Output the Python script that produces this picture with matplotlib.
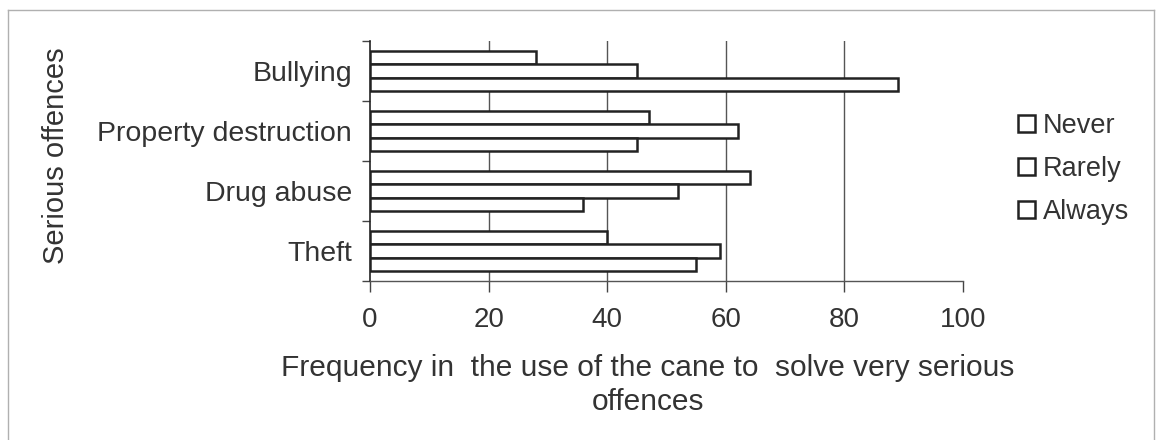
import matplotlib
matplotlib.use("Agg")
import matplotlib.pyplot as plt
import numpy as np
from matplotlib.lines import Line2D

categories = ["Bullying", "Property destruction", "Drug abuse", "Theft"]
series_names = ["Never", "Rarely", "Always"]
never = [28, 47, 64, 40]
rarely = [45, 62, 52, 59]
always = [89, 45, 36, 55]
x_ticks = [0, 20, 40, 60, 80, 100]
x_label = "Frequency in  the use of the cane to  solve very serious\noffences"
y_label = "Serious offences"

plt.rcParams['font.family'] = ['Liberation Sans', 'DejaVu Sans']
W, H = 1156, 440
fig = plt.figure(figsize=(W / 100, H / 100), dpi=100)
fig.patch.set_facecolor('white')
ax = fig.add_axes([370 / W, 1 - 281 / H, (963 - 370) / W, (281 - 41) / H])

text_color = '#333333'
y = np.arange(len(categories))
h = 0.217
for i, (name, vals) in enumerate(zip(series_names, [never, rarely, always])):
    ax.barh(y + (i - 1) * h, vals, height=h, color='white', edgecolor='#222222',
            linewidth=1.8, label=name, zorder=3)

ax.set_ylim(len(categories) - 0.5, -0.5)
ax.set_xlim(x_ticks[0], x_ticks[-1])
ax.set_xticks(x_ticks)
ax.set_xticklabels([str(t) for t in x_ticks])
ax.set_yticks(y)
ax.set_yticklabels(categories)
ax.set_yticks(np.arange(-0.5, len(categories), 1), minor=True)
ax.tick_params(axis='y', which='major', length=0, pad=13, labelsize=20.5, labelcolor=text_color)
ax.tick_params(axis='y', which='minor', length=6, color='#444444', width=1)
ax.tick_params(axis='x', length=8, pad=11, labelsize=20, labelcolor=text_color,
               color='#444444', width=1)
ax.grid(axis='x', color='#555555', linewidth=1, zorder=0)
gl = ax.get_xgridlines()
gl[0].set_visible(False)
gl[-1].set_visible(False)
for s in ['top', 'right']:
    ax.spines[s].set_visible(False)
ax.spines['left'].set_color('#222222')
ax.spines['left'].set_linewidth(1.2)
ax.spines['bottom'].set_color('#555555')
ax.spines['bottom'].set_linewidth(1)

fig.text(56 / W, 1 - 156 / H, y_label, rotation=90, ha='center', va='center',
         fontsize=21, color=text_color)
fig.text(648 / W, 1 - 385 / H, x_label, ha='center', va='center', fontsize=21.5,
         color=text_color, linespacing=1.3)

handles, labels = ax.get_legend_handles_labels()
fig.legend(handles, labels, loc='center left', bbox_to_anchor=(994 / W, 1 - 169 / H),
           frameon=False, handlelength=0.6, handleheight=0.6, handletextpad=0.3,
           labelspacing=0.62, fontsize=19.5, labelcolor=text_color)

frame_color = '#b0b0b0'
fig.add_artist(Line2D([8 / W, 1154 / W], [1 - 10 / H, 1 - 10 / H], transform=fig.transFigure,
                      color=frame_color, lw=1))
fig.add_artist(Line2D([8 / W, 8 / W], [1 - 10 / H, 0], transform=fig.transFigure,
                      color=frame_color, lw=1))
fig.add_artist(Line2D([1154 / W, 1154 / W], [1 - 10 / H, 0], transform=fig.transFigure,
                      color=frame_color, lw=1))

fig.savefig("out.png", dpi=100)
